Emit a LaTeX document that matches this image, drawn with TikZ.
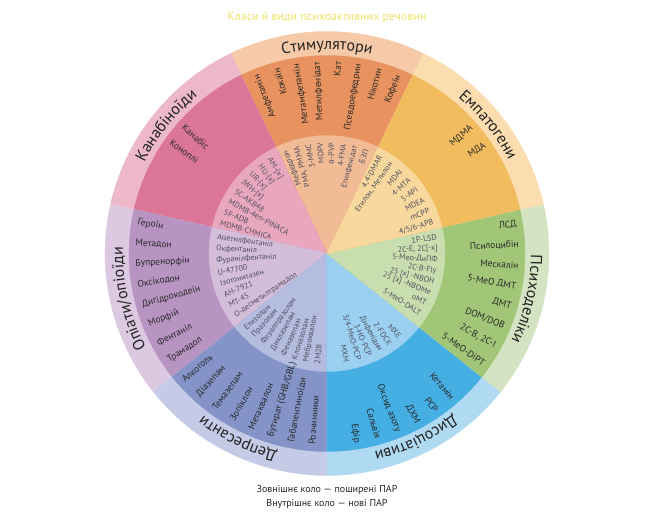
\documentclass[tikz,border=0pt]{standalone}
\usepackage{fontspec}
\setmainfont{PT Sans}
\newfontfamily\grk{Fira Sans}
\usetikzlibrary{decorations.text}
\definecolor{stO}{HTML}{F6C9A9}\definecolor{stM}{HTML}{E8935F}\definecolor{stI}{HTML}{F1BB96}
\definecolor{emO}{HTML}{FBDDB0}\definecolor{emM}{HTML}{F1BC5E}\definecolor{emI}{HTML}{F8D89D}
\definecolor{psO}{HTML}{D4E3C1}\definecolor{psM}{HTML}{A1C678}\definecolor{psI}{HTML}{C9DEAF}
\definecolor{diO}{HTML}{B0D9F2}\definecolor{diM}{HTML}{45AEE2}\definecolor{diI}{HTML}{9BD0F0}
\definecolor{deO}{HTML}{C5CBE6}\definecolor{deM}{HTML}{8494C8}\definecolor{deI}{HTML}{B4BCDF}
\definecolor{opO}{HTML}{DCC9E1}\definecolor{opM}{HTML}{B794C1}\definecolor{opI}{HTML}{D3BDD9}
\definecolor{caO}{HTML}{EDB8CA}\definecolor{caM}{HTML}{DC7699}\definecolor{caI}{HTML}{E9A7BE}
\definecolor{labc}{HTML}{222222}
\definecolor{midc}{HTML}{2A2A2A}
\definecolor{innc}{HTML}{505060}
\definecolor{titlec}{HTML}{EDE36A}
\newcommand\Sector[5]{%
  \fill[#3, draw=#3, line width=0.3pt] (0,0) -- (#1:222pt) arc[start angle=#1, end angle=#2, radius=222pt] -- cycle;
  \fill[#4, draw=#4, line width=0.3pt] (0,0) -- (#1:198pt) arc[start angle=#1, end angle=#2, radius=198pt] -- cycle;
  \fill[#5, draw=#5, line width=0.3pt] (0,0) -- (#1:118pt) arc[start angle=#1, end angle=#2, radius=118pt] -- cycle;}
\newcommand\ClassLabel[2]{%
  \path[decorate, decoration={text along path, text align=center,
    text={|\fontsize{16pt}{16pt}\selectfont\color{labc}|#2}}]
    (#1+25.7:204pt) arc[start angle=#1+25.7, end angle=#1-25.7, radius=204pt];}
\newcommand\MidOut[3]{\node[midtext, anchor=east, rotate=#2] (#1) at (#2:192pt) {#3};}
\newcommand\MidIn[3]{\node[midtext, anchor=west, rotate=#2+180] (#1) at (#2:192pt) {#3};}
\newcommand\InnOut[3]{\node[inntext, anchor=east, rotate=#2] (#1) at (#2:111pt) {#3};}
\newcommand\InnIn[3]{\node[inntext, anchor=west, rotate=#2+180] (#1) at (#2:111pt) {#3};}
\begin{document}
\begin{tikzpicture}[x=1pt, y=1pt,
  midtext/.style={font=\fontsize{9.5pt}{10pt}\selectfont, text=midc, inner sep=0pt},
  inntext/.style={font=\fontsize{8pt}{9pt}\selectfont, text=innc, inner sep=0pt},
  titletext/.style={font=\fontsize{12pt}{14pt}\selectfont, text=titlec},
  foottext/.style={font=\fontsize{10pt}{12pt}\selectfont, text=black!85}]
\useasboundingbox (-327,-269.5) rectangle (329,253.5);
\fill[white] (-327,-269.5) rectangle (329,253.5);
% sectors
\Sector{64.2857}{115.7143}{stO}{stM}{stI}
\Sector{115.7143}{167.1429}{caO}{caM}{caI}
\Sector{167.1429}{218.5714}{opO}{opM}{opI}
\Sector{218.5714}{270}{deO}{deM}{deI}
\Sector{270}{321.4286}{diO}{diM}{diI}
\Sector{321.4286}{372.8571}{psO}{psM}{psI}
\Sector{12.8571}{64.2857}{emO}{emM}{emI}
% class labels
\ClassLabel{90}{Стимулятори}
\ClassLabel{141.4286}{Канабіноїди}
\ClassLabel{192.8571}{Опіати/опіоїди}
\ClassLabel{244.2857}{Депресанти}
\ClassLabel{295.7143}{Дисоціативи}
\ClassLabel{347.1429}{Психоделіки}
\ClassLabel{38.5714}{Емпатогени}
% stimulants
\MidOut{s1}{111.5}{Амфетамін}
\MidOut{s2}{105.3}{Кокаїн}
\MidOut{s3}{99.1}{Метамфетамін}
\MidOut{s4}{92.9}{Метилфенідат}
\MidOut{s5}{86.7}{Кат}
\MidOut{s6}{80.5}{Псевдоефедрин}
\MidOut{s7}{74.3}{Нікотин}
\MidOut{s8}{68.1}{Кофеїн}
\InnOut{si1}{112}{Мефедрон}
\InnOut{si2}{105.9}{PMA, PMMA}
\InnOut{si3}{99.8}{3-MMC}
\InnOut{si4}{93.6}{MDPV}
\InnOut{si5}{87.5}{{\grk α}-PVP}
\InnOut{si6}{81.4}{4-FMA}
\InnOut{si7}{75.3}{Етилфенідат}
\InnOut{si8}{69.2}{БЗП}
% empathogens
\MidOut{e1}{41.2}{МДМА}
\MidOut{e2}{34.6}{МДА}
\InnOut{ei1}{61}{4,4'-DMAR}
\InnOut{ei2}{54.6}{Етилон, Метилон}
\InnOut{ei3}{48.3}{MDAI}
\InnOut{ei4}{41.9}{4-MTA}
\InnOut{ei5}{35.6}{5-API}
\InnOut{ei6}{29.2}{MDEA}
\InnOut{ei7}{22.9}{mCPP}
\InnOut{ei8}{16.5}{4/5/6-APB}
% psychedelics
\MidOut{p1}{9}{ЛСД}
\MidOut{p2}{2.7}{Псилоцибін}
\MidOut{p3}{-3.6}{Мескалін}
\MidOut{p4}{-9.9}{5-MeO ДМТ}
\MidOut{p5}{-16.1}{ДМТ}
\MidOut{p6}{-22.4}{DOM/DOB}
\MidOut{p7}{-28.7}{2C-B, 2C-I}
\MidOut{p8}{-35}{5-MeO-DiPT}
\InnOut{pi1}{8.5}{1P-LSD}
\InnOut{pi2}{2.6}{2C-E, 2C[-x]}
\InnOut{pi3}{-3.2}{5-Meo-ДиПФ}
\InnOut{pi4}{-9.1}{2C-B-Fly}
\InnOut{pi5}{-15}{25 [x] -NBOH}
\InnOut{pi6}{-20.9}{25 [x] -NBOMe}
\InnOut{pi7}{-26.7}{оМТ}
\InnOut{pi8}{-32.6}{5-MeO-DALT}
% dissociatives
\MidOut{d1}{-49}{Кетамін}
\MidOut{d2}{-55.4}{PCP}
\MidOut{d3}{-61.8}{ДХМ}
\MidOut{d4}{-68.2}{Оксид азоту}
\MidOut{d5}{-74.6}{Сальвія}
\MidOut{d6}{-81}{Ефір}
\InnOut{di1}{-49}{MXE}
\InnOut{di2}{-55.2}{2-FDCK}
\InnOut{di3}{-61.3}{Дифенідин}
\InnOut{di4}{-67.5}{3-HO-PCP}
\InnOut{di5}{-73.6}{3/4-MeO-PCP}
\InnOut{di6}{-79.8}{MXM}
% depressants
\MidIn{r1}{221.4}{Алкоголь}
\MidIn{r2}{227.7}{Діазепам}
\MidIn{r3}{234}{Темазепам}
\MidIn{r4}{240.3}{Зопіклон}
\MidIn{r5}{246.6}{Метаквалон}
\MidIn{r6}{252.9}{Бутират (GHB/GBL)}
\MidIn{r7}{259.2}{Габапентиноїди}
\MidIn{r8}{265.5}{Розчинники}
\InnIn{ri1}{222.3}{Етизолам}
\InnIn{ri2}{228.4}{Празолам}
\InnIn{ri3}{234.5}{Флуалпразолам}
\InnIn{ri4}{240.6}{Диклазепам}
\InnIn{ri5}{246.7}{Феназепам}
\InnIn{ri6}{252.8}{Клоназолам}
\InnIn{ri7}{258.9}{Меброквалон}
\InnIn{ri8}{265}{2M2B}
% opiates
\MidIn{o1}{170.7}{Героїн}
\MidIn{o2}{176.9}{Метадон}
\MidIn{o3}{183.1}{Бупренорфін}
\MidIn{o4}{189.3}{Оксікодон}
\MidIn{o5}{195.5}{Дигідрокодеїн}
\MidIn{o6}{201.7}{Морфій}
\MidIn{o7}{207.9}{Фентаніл}
\MidIn{o8}{214.1}{Трамадол}
\InnIn{oi1}{171.5}{Ацетилфентаніл}
\InnIn{oi2}{177.6}{Окфентаніл}
\InnIn{oi3}{183.7}{Фуранілфентаніл}
\InnIn{oi4}{189.8}{U-47700}
\InnIn{oi5}{195.8}{Ізотонитазен}
\InnIn{oi6}{201.9}{АН-7921}
\InnIn{oi7}{208}{МТ-45}
\InnIn{oi8}{214}{О-десметилтрамадол}
% cannabinoids
\MidIn{c1}{138.4}{Канабіс}
\MidIn{c2}{144.5}{Коноплі}
\InnIn{ci1}{121.4}{AM-[x]}
\InnIn{ci2}{127.5}{HU-[x]}
\InnIn{ci3}{133.6}{UR-[x]}
\InnIn{ci4}{139.7}{JWH-[x]}
\InnIn{ci5}{145.8}{5C-AKB48}
\InnIn{ci6}{151.9}{MDMB-4en-PINACA}
\InnIn{ci7}{158}{5F-ADB}
\InnIn{ci8}{164}{MDMB-CHMICA}
% title and legend
\node[titletext] (title) at (0,236.5) {Класи й види психоактивних речовин};
\node[foottext] (foot1) at (0,-236.5) {Зовнішнє коло — поширені ПАР};
\node[foottext] (foot2) at (0,-250.5) {Внутрішнє коло — нові ПАР};
\end{tikzpicture}
\end{document}
